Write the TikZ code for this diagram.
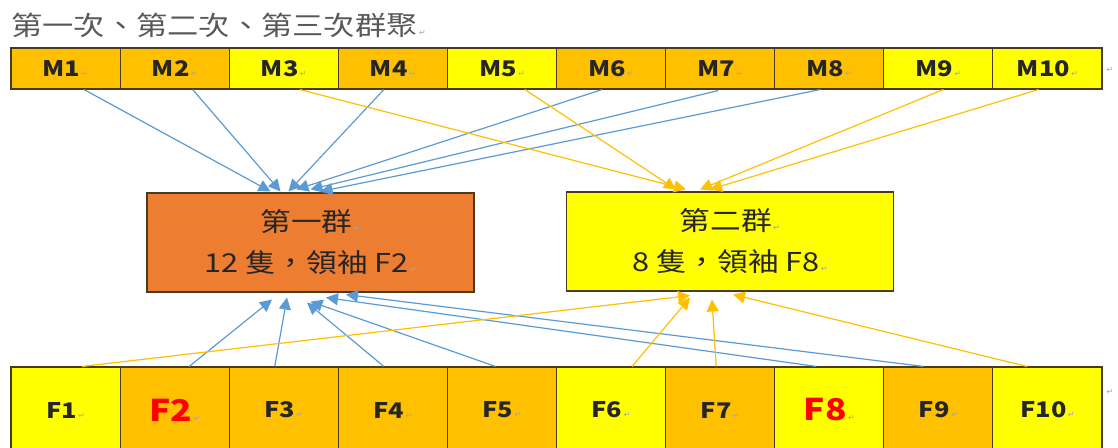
\documentclass[tikz,border=0pt]{standalone}
\usepackage{fontspec}
\setmainfont{Noto Sans CJK TC}[FakeStretch=1.18]
\newfontfamily\djv{DejaVu Sans}
\usetikzlibrary{arrows.meta,calc}
\definecolor{cellorange}{HTML}{FFC000}
\definecolor{cellyellow}{HTML}{FFFF00}
\definecolor{grporange}{HTML}{ED7D31}
\definecolor{edgebrown}{HTML}{4A3B1C}
\definecolor{linkblue}{HTML}{5B9BD5}
\definecolor{linkgold}{HTML}{FFC000}
\definecolor{textdark}{HTML}{262626}
\definecolor{titlegray}{HTML}{595959}
\definecolor{retgray}{HTML}{A6A6A6}
\newcommand{\retmark}{{\djv\mdseries\color{retgray}\fontsize{8}{8}\selectfont\,↵}}
\newcommand{\leadlabel}[1]{{\color{red}\bfseries\fontsize{30}{30}\selectfont #1}}
\tikzset{
  cellbox/.style={draw=edgebrown, line width=1.1pt, minimum width=109.1pt, inner sep=0pt,
    text=textdark, font=\bfseries\fontsize{21.5}{21.5}\selectfont},
  toprow/.style={cellbox, minimum height=41pt},
  botrow/.style={cellbox, minimum height=86pt},
  grpbox/.style={draw=edgebrown, line width=1.1pt, minimum width=327pt, minimum height=99pt,
    align=center, text=textdark, font=\fontsize{26}{41}\selectfont},
  bluelink/.style={draw=linkblue, line width=1.2pt, -{Triangle[length=12pt,width=12pt]}},
  goldlink/.style={draw=linkgold, line width=1.2pt, -{Triangle[length=12pt,width=12pt]}},
  stray/.style={text=retgray, font=\djv\fontsize{8}{8}\selectfont}
}
\begin{document}
\begin{tikzpicture}[x=1pt,y=-1pt]
\useasboundingbox (0,0) rectangle (1118,447);
\fill[white] (0,0) rectangle (1118,447);
\clip (0,0) rectangle (1118,447);

\node[anchor=west, text=titlegray, font=\fontsize{26.5}{26.5}\selectfont, inner sep=0pt] (title) at (11,25) {第一次、第二次、第三次群聚\retmark};

% top row
\node[toprow, fill=cellorange] (m1) at (65.55,68.5) {M1\retmark};
\node[toprow, fill=cellorange] (m2) at (174.65,68.5) {M2\retmark};
\node[toprow, fill=cellyellow] (m3) at (283.75,68.5) {M3\retmark};
\node[toprow, fill=cellorange] (m4) at (392.85,68.5) {M4\retmark};
\node[toprow, fill=cellyellow] (m5) at (501.95,68.5) {M5\retmark};
\node[toprow, fill=cellorange] (m6) at (611.05,68.5) {M6\retmark};
\node[toprow, fill=cellorange] (m7) at (720.15,68.5) {M7\retmark};
\node[toprow, fill=cellorange] (m8) at (829.25,68.5) {M8\retmark};
\node[toprow, fill=cellyellow] (m9) at (938.35,68.5) {M9\retmark};
\node[toprow, fill=cellyellow] (m10) at (1047.45,68.5) {M10\retmark};
\node[stray] (r1) at (1110,70) {↵};

% bottom row
\node[botrow, fill=cellyellow] (f1) at (65.55,410) {F1\retmark};
\node[botrow, fill=cellorange] (f2) at (174.65,410) {\leadlabel{F2}\retmark};
\node[botrow, fill=cellorange] (f3) at (283.75,410) {F3\retmark};
\node[botrow, fill=cellorange] (f4) at (392.85,410) {F4\retmark};
\node[botrow, fill=cellorange] (f5) at (501.95,410) {F5\retmark};
\node[botrow, fill=cellyellow] (f6) at (611.05,410) {F6\retmark};
\node[botrow, fill=cellorange] (f7) at (720.15,410) {F7\retmark};
\node[botrow, fill=cellyellow] (f8) at (829.25,410) {\leadlabel{F8}\retmark};
\node[botrow, fill=cellorange] (f9) at (938.35,410) {F9\retmark};
\node[botrow, fill=cellyellow] (f10) at (1047.45,410) {F10\retmark};
\node[stray] (r2) at (1110,392) {↵};

% groups
\node[grpbox, fill=grporange] (g1) at (310.5,242.5) {第一群\retmark\\12 隻，領袖 F2\retmark};
\node[grpbox, fill=cellyellow] (g2) at (730,241.5) {第二群\retmark\\8 隻，領袖 F8\retmark};

% top arrows to group 1
\draw[bluelink] ([xshift=18.5pt]m1.south) -- ([xshift=-40pt,yshift=1pt]g1.north);
\draw[bluelink] ([xshift=18pt]m2.south) -- ([xshift=-30pt,yshift=1pt]g1.north);
\draw[bluelink] ([xshift=-9pt]m4.south) -- ([xshift=-22pt,yshift=1pt]g1.north);
\draw[bluelink] ([xshift=-9pt]m6.south) -- ([xshift=-14pt,yshift=3pt]g1.north);
\draw[bluelink] ([xshift=-2pt,yshift=-1pt]m7.south) -- ([xshift=0pt,yshift=3pt]g1.north);
\draw[bluelink] ([xshift=-9pt]m8.south) -- ([xshift=10pt,yshift=1pt]g1.north);

% top arrows to group 2
\draw[goldlink] ([xshift=16pt]m3.south) -- ([xshift=-44pt,yshift=2pt]g2.north);
\draw[goldlink] ([xshift=23pt]m5.south) -- ([xshift=-54pt,yshift=2pt]g2.north);
\draw[goldlink] ([xshift=5pt]m9.south) -- ([xshift=-30pt,yshift=2pt]g2.north);
\draw[goldlink] ([xshift=-9pt]m10.south) -- ([xshift=-20pt,yshift=2pt]g2.north);

% bottom arrows to group 1
\draw[bluelink] ([xshift=14.5pt]f2.north) -- ([xshift=-38.5pt,yshift=-7pt]g1.south);
\draw[bluelink] ([xshift=-9pt]f3.north) -- ([xshift=-23.5pt,yshift=-5pt]g1.south);
\draw[bluelink] ([xshift=-9pt]f4.north) -- ([xshift=-3.5pt,yshift=-10pt]g1.south);
\draw[bluelink] ([xshift=-6.5pt]f5.north) -- ([xshift=0pt,yshift=-9pt]g1.south);
\draw[bluelink] ([xshift=-13pt]f8.north) -- ([xshift=15.5pt,yshift=-5pt]g1.south);
\draw[bluelink] ([xshift=-15pt]f9.north) -- ([xshift=35.5pt,yshift=-2pt]g1.south);

% bottom arrows to group 2
\draw[goldlink] ([xshift=16.5pt]f1.north) -- ([xshift=-40pt,yshift=-4pt]g2.south);
\draw[goldlink] ([xshift=21pt]f6.north) -- ([xshift=-40pt,yshift=-6pt]g2.south);
\draw[goldlink] ([xshift=-4pt]f7.north) -- ([xshift=-18pt,yshift=-8pt]g2.south);
\draw[goldlink] ([xshift=-20.5pt]f10.north) -- ([xshift=3pt,yshift=-3pt]g2.south);
\end{tikzpicture}
\end{document}
